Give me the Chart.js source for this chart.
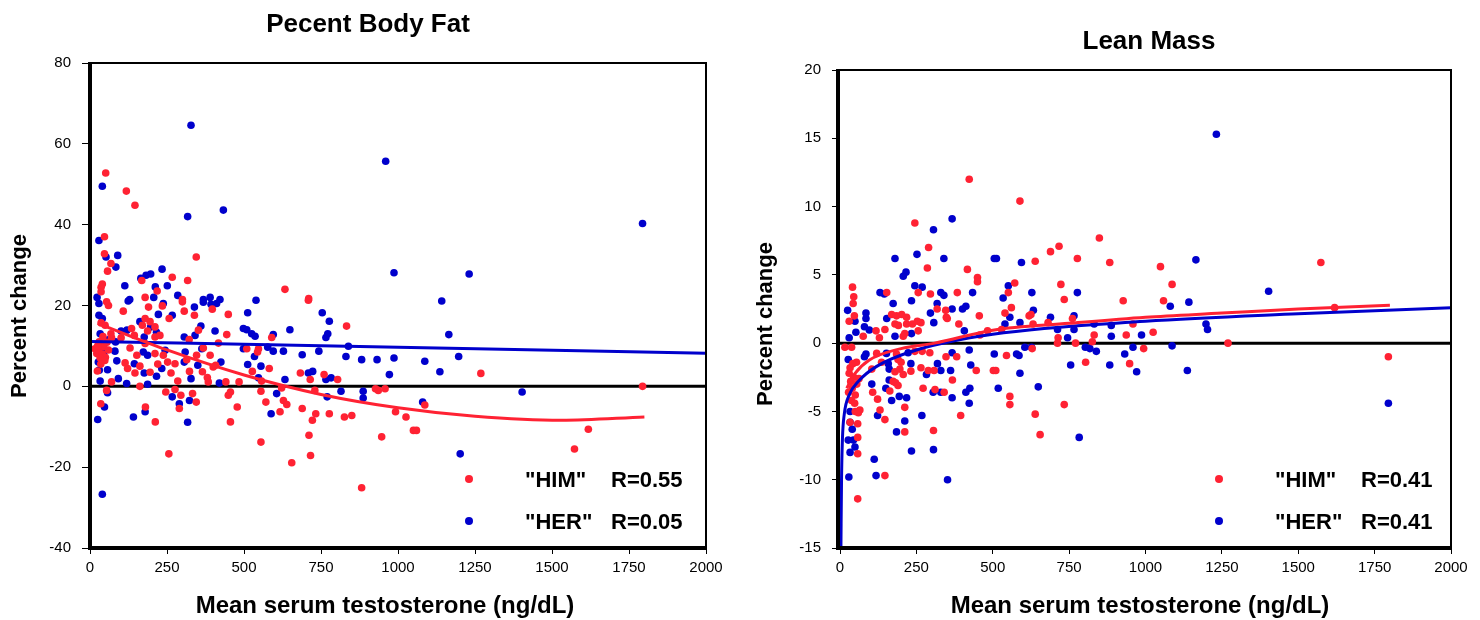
<!DOCTYPE html>
<html>
<head>
<meta charset="utf-8">
<script src="https://cdn.jsdelivr.net/npm/chart.js@4.4.1/dist/chart.umd.min.js"></script>
<style>
  body { margin: 0; background: #fff; }
  .panel { position: absolute; top: 0; width: 740px; height: 620px; }
  #left { left: 0; }
  #right { left: 740px; }
</style>
</head>
<body>
<div class="panel" id="left"><canvas id="fatChart" width="740" height="620"></canvas></div>
<div class="panel" id="right"><canvas id="leanChart" width="740" height="620"></canvas></div>
<script>
// ---- data: [testosterone ng/dL, percent change] ----
const xTicks = [0, 250, 500, 750, 1000, 1250, 1500, 1750, 2000];
const fatTicks = [-40, -20, 0, 20, 40, 60, 80];
const leanTicks = [-15, -10, -5, 0, 5, 10, 15, 20];

// Percent body fat, "HIM" (red)
const himFat = [
  [51,52.8],[118,48.3],[146,44.8],[47,37],[47,32.8],[345,32],[68,30.4],[57,28.5],[168,26.2],[267,27],
  [317,26.2],[40,25.3],[36,24.5],[36,23.4],[218,23.6],[179,22],[300,21.5],[633,24],[710,21.7],
  [1269,3.2],[1794,0],[1087,-4.6],[1026,-7.6],[1050,-10.9],[1060,-10.9],[1618,-10.6],[1573,-15.5],
  [256,-16.7],[180,-5.1],[212,-8.8],[35,-4.3],[290,-5.5],[345,-3.9],[295,-2.2],[333,-1.8],[246,-1.4],
  [276,-0.8],[54,-1],[449,-2.2],[456,-1.4],[478,-5.1],[456,-8.8],[441,1.1],[484,1.1],[70,1.1],[162,0],
  [285,1.3],[381,2.2],[384,1.1],[24,3.8],[146,3.3],[195,3.5],[263,3.3],[323,3.7],[122,4.4],[114,5.8],
  [162,5],[220,5.5],[365,3.6],[400,4.8],[408,5.2],[252,6],[276,5.6],[314,6.6],[16,9.3],[22,8.1],
  [152,7.7],[211,8.1],[238,7.7],[346,7.7],[390,7.7],[322,11.6],[368,9.5],[417,10.7],[444,12.8],[352,13.9],
  [179,10.6],[211,12.2],[227,12.6],[144,12.6],[135,14.3],[101,12],[70,12],[130,9.5],[170,15.1],[195,16],
  [179,16.8],[211,14.7],[187,13.7],[257,16.8],[190,19.6],[235,19.9],[306,18.6],[339,17.6],[397,19.1],
  [449,17.8],[300,20.9],[60,20],[54,20.9],[108,18.6],[36,15.7],[49,15.1],[68,13],
  [30,11],[38,10.5],[45,9.8],[28,8.8],[40,8],[50,7.2],[33,7],[55,10.9],[42,12.3],[25,10],[60,9],[48,6.4],[35,5.5],
  [709,21.3],[833,14.9],[590,12.1],[509,9.3],[547,9.3],[544,8.5],[527,3.7],[582,4.4],[683,3.3],[760,2.9],
  [715,1.7],[804,1.7],[557,1.3],[622,-0.4],[730,-1],[927,-0.6],[936,-1],[958,-0.6],[555,-1.2],[571,-3.9],
  [628,-3.5],[639,-4.5],[617,-6.3],[689,-5.5],[733,-6.8],[722,-8.4],[777,-6.8],[826,-7.6],[850,-7.2],
  [992,-6.3],[711,-12.1],[947,-12.5],[555,-13.8],[716,-17.1],[655,-18.9],[882,-25.1]
];

// Percent body fat, "HER" (blue)
const herFat = [
  [40,49.5],[328,64.6],[317,42],[433,43.6],[29,36.1],[52,32],[90,32.4],[84,29.5],[234,29],[197,27.8],
  [182,27.5],[165,26.7],[113,24.9],[251,24.9],[212,24.6],[285,22.5],[207,22],[23,22],[129,21.5],[368,21.5],
  [390,22],[422,21.5],[960,55.7],[987,28.1],[539,21.3],
  [1794,40.3],[1231,27.8],[1142,21.1],[1165,12.8],[1087,6.2],[1197,7.4],[1136,3.6],[1403,-1.4],[1080,-3.9],[1202,-16.7],
  [40,-26.7],[25,-8.2],[141,-7.6],[179,-6.3],[47,-5.1],[290,-4.3],[323,-3.5],[317,-8.9],[267,-2.6],[57,-1.6],
  [420,0.8],[33,1.3],[92,1.9],[119,0.7],[187,0.5],[328,1.9],[216,2.5],[57,4.1],[176,3.3],[233,4.4],
  [87,6.3],[144,5.6],[350,5.2],[425,6],[306,6],[27,6],[43,6.4],[81,8.7],[173,8.5],[187,7.7],
  [244,8.9],[309,8.5],[363,9.3],[341,12.6],[306,12.2],[406,13.7],[360,14.9],[176,12.2],[216,13.4],[120,13.9],
  [162,16],[197,14.7],[267,17.6],[222,17.8],[238,20.5],[339,19.6],[411,20.5],[368,20.8],[393,20.3],[124,21.1],
  [29,20.5],[29,17.6],[40,16.8],[33,13],[101,13.7],[83,11],[498,14.3],[498,9.3],[35,10],[45,8.5],[30,4],[60,11.5],
  [512,18.2],[754,18.2],[777,16.1],[509,14],[525,13],[536,12.4],[595,12.8],[649,14],[772,13],[766,12.1],
  [577,9.7],[595,8.7],[628,8.7],[689,7.8],[743,8.7],[839,9.9],[831,7.4],[882,6.6],[932,6.6],[987,7],
  [512,5.4],[534,7.4],[555,5],[709,3.3],[723,3.7],[783,2.1],[766,1.7],[972,2.9],[633,1.7],[547,2.1],
  [815,-1.2],[887,-1.2],[887,-2.9],[770,-2.6],[606,-1.8],[588,-6.8]
];

// Lean mass, "HIM" (red)
const himLean = [
  [423,12],[245,8.8],[290,7],[286,5.5],[417,5.4],[450,4.8],[450,4.5],[41,4.1],[45,3.4],[43,2.9],
  [153,3.7],[256,3.7],[296,3.6],[384,3.7],[318,2.5],[346,2.4],[348,1.9],[351,1.8],[47,2.0],[30,1.6],
  [456,2],[169,2.1],[185,2],[202,2.1],[218,1.9],[180,1.4],[191,1.3],[218,1.4],[237,1.4],[253,1.6],
  [265,1.5],[389,1.4],[118,0.9],[147,1.0],[256,0.9],[212,0.7],[207,0.5],[76,0.5],[129,0.4],[483,0.9],[458,0.6],
  [58,-11.4],[147,-9.7],[58,-8.1],[58,-6.9],[306,-6.4],[212,-6.5],[147,-5.6],[131,-4.9],[212,-4.7],[395,-5.3],
  [58,-5.9],[33,-5.8],[50,-5],[60,-5.1],[65,-4.9],[123,-4.1],[107,-3.6],[163,-3.5],[272,-3.3],[311,-3.4],
  [341,-3.6],[174,-2.8],[182,-2.9],[190,-3.1],[368,-2.7],[104,-1.9],[207,-2.3],[180,-2.1],[196,-1.9],[232,-2.05],
  [265,-1.8],[289,-2],[308,-2],[446,-2],[136,-1.4],[120,-0.75],[185,-0.8],[190,-1.2],[200,-1.4],[54,-1.4],
  [245,-0.6],[269,-0.6],[294,-0.7],[347,-1],[382,-1],[16,-0.3],[38,-0.3],[502,-2],
  [30,-2.2],[35,-2.8],[40,-3.3],[45,-2.5],[50,-3.8],[28,-3.6],[55,-3],[38,-4.2],[62,-2.6],[33,-1.8],[48,-4.4],[42,-1.5],
  [589,10.4],[849,7.7],[717,7.1],[689,6.7],[639,6],[777,6.2],[883,5.9],[572,4.4],[551,3.7],[723,4.3],
  [734,3.2],[927,3.1],[561,2.6],[540,2.2],[619,2],[625,2.1],[761,1.8],[632,1.4],[681,1.5],[959,1.4],
  [529,1],[832,0.6],[937,0.6],[1025,0.8],[714,0.4],
  [712,0],[771,0],[826,0.1],[994,-0.4],[545,-0.9],[629,-0.4],[804,-1.4],[948,-1.5],[510,-2],[556,-3.9],
  [556,-4.5],[734,-4.5],[639,-5.2],[655,-6.7],
  [1049,5.6],[1574,5.9],[1087,4.3],[1059,3.1],[1619,2.6],[1270,0],[1795,-1]
];

// Lean mass, "HER" (blue)
const herLean = [
  [367,9.1],[306,8.3],[180,6.2],[252,6.5],[340,6.2],[216,5.2],[207,4.9],[505,6.2],[245,4.2],[269,4.1],
  [131,3.7],[145,3.6],[234,3.1],[330,3.7],[340,3.5],[434,3.7],[174,2.9],[318,2.9],[367,2.5],[412,2.7],
  [401,2.5],[25,2.4],[85,2.2],[85,1.8],[49,1.6],[296,2.2],[307,1.5],[153,1.8],[80,1.2],[96,0.96],
  [52,0.8],[234,0.7],[30,0.4],[180,0.5],[407,0.9],
  [29,-9.8],[118,-9.7],[112,-8.5],[352,-10],[33,-8],[49,-7.6],[44,-7.1],[27,-7.1],[234,-7.9],[306,-7.8],
  [185,-6.5],[212,-5.7],[268,-5.3],[123,-5.3],[40,-6.3],[33,-5.8],[33,-5],[169,-4.2],[194,-3.9],[218,-4],
  [150,-3.3],[305,-3.6],[330,-3.6],[367,-4],[412,-3.6],[425,-3.3],[423,-4.4],[104,-3],[161,-2.7],[161,-1.9],
  [283,-2.3],[330,-2],[362,-2],[319,-1.5],[232,-1.5],[158,-1.5],[85,-0.8],[80,-1],[152,-0.75],[27,-1.2],
  [367,-0.7],[223,-0.7],[423,-0.5],[428,-1.6],[505,-0.8],
  [512,6.2],[594,5.9],[551,4.2],[534,3.3],[628,3.7],[777,3.7],[556,1.9],[633,2.4],[689,1.9],[766,2],
  [540,1.4],[589,1.5],[712,1],[766,1],[832,1.4],[888,1.3],[888,0.5],[987,0.6],[745,0.4],
  [605,-0.3],[627,-0.3],[803,-0.3],[818,-0.4],[839,-0.6],[959,-0.3],[578,-0.8],[586,-0.9],[755,-1.6],
  [883,-1.6],[932,-0.8],[971,-2.1],[589,-2.2],[518,-3.3],[649,-3.2],[783,-6.9],
  [1232,15.3],[1165,6.1],[1403,3.8],[1081,2.7],[1142,3],[1198,1.4],[1203,1],[1087,-0.2],[1137,-2],[1795,-4.4]
];

// fitted curves
const fatFitHim = [[25,15.6],[250,9.0],[500,2.8],[750,-2.0],[1000,-5.3],[1250,-7.4],[1530,-8.4],[1800,-7.6]];
const fatFitHer = [[0,11.1],[1000,9.7],[2000,8.2]];
const leanFitHim = [[22,-3.3],[50,-2.2],[95,-1.25],[200,-0.4],[310,0],[500,0.95],[750,1.45],[1000,1.9],[1250,2.2],[1500,2.5],[1800,2.78]];
const leanFitHer = [[3,-15],[5,-10],[8,-7],[14,-5.2],[30,-3.8],[60,-2.8],[120,-1.7],[250,-0.5],[500,0.65],[1000,1.6],[1500,2.15],[2000,2.6]];
const zeroLine = [[0,0],[2000,0]];

const RED = '#ff2233';
const BLUE = '#0000cc';
const FONT = '"Liberation Sans", Arial, Helvetica, sans-serif';

const pts = arr => arr.map(p => ({ x: p[0], y: p[1] }));

// box around the plot: thick left/bottom axes, thin top/right
const frame = {
    id: 'frame',
    afterDatasetsDraw(chart, args, o) {
        const { ctx, chartArea: a } = chart;
        const lx = a.left - (o.shift || 0);
        ctx.save();
        ctx.strokeStyle = '#000';
        ctx.lineWidth = 2;
        ctx.beginPath();
        ctx.moveTo(lx, a.top);
        ctx.lineTo(a.right, a.top);
        ctx.lineTo(a.right, a.bottom);
        ctx.stroke();
        ctx.lineWidth = 4;
        ctx.beginPath();
        ctx.moveTo(lx, a.top - 1);
        ctx.lineTo(lx, a.bottom);
        ctx.lineTo(a.right + 1, a.bottom);
        ctx.stroke();
        ctx.restore();
    }
};

// titles, axis labels and the in-plot legend
const decor = {
    id: 'decor',
    afterDraw(chart, args, o) {
        const { ctx, chartArea: a } = chart;
        ctx.save();
        ctx.fillStyle = '#000';
        ctx.textAlign = 'center';
        ctx.textBaseline = 'alphabetic';
        ctx.font = 'bold 26px ' + FONT;
        ctx.fillText(o.title, o.titleX, o.titleY);

        ctx.font = 'bold 24px ' + FONT;
        ctx.fillText('Mean serum testosterone (ng/dL)', o.xLabelX, 613);

        ctx.save();
        ctx.translate(o.yLabelX, o.yLabelY);
        ctx.rotate(-Math.PI / 2);
        ctx.textBaseline = 'middle';
        ctx.font = 'bold 22px ' + FONT;
        ctx.fillText('Percent change', 0, 0);
        ctx.restore();

        const rows = [
            { color: RED, name: '"HIM"', r: o.rHim, y: a.bottom - 69 },
            { color: BLUE, name: '"HER"', r: o.rHer, y: a.bottom - 27 }
        ];
        ctx.textAlign = 'left';
        ctx.font = 'bold 22px ' + FONT;
        rows.forEach(row => {
            ctx.fillStyle = row.color;
            ctx.beginPath();
            ctx.arc(a.left + 379, row.y, 4, 0, Math.PI * 2);
            ctx.fill();
            ctx.fillStyle = '#000';
            ctx.fillText(row.name, a.left + 435, row.y + 8);
            ctx.fillText('R=' + row.r, a.left + 521, row.y + 8);
        });
        ctx.restore();
    }
};

function scatterSet(data, color, order) {
    return {
        data: pts(data),
        backgroundColor: color,
        borderColor: color,
        borderWidth: 0,
        pointRadius: 3.8,
        pointHoverRadius: 3.8,
        showLine: false,
        order: order
    };
}

function lineSet(data, color, width, order) {
    return {
        data: pts(data),
        borderColor: color,
        backgroundColor: color,
        borderWidth: width,
        pointRadius: 0,
        pointHoverRadius: 0,
        showLine: true,
        cubicInterpolationMode: 'monotone',
        order: order
    };
}

function makeChart(id, cfg) {
    const tickFont = { size: 15, family: FONT };
    return new Chart(document.getElementById(id), {
        type: 'scatter',
        data: {
            datasets: [
                lineSet(zeroLine, '#000', 3, 6),
                scatterSet(cfg.her, BLUE, 5),
                scatterSet(cfg.him, RED, 4),
                lineSet(cfg.fitHer, BLUE, 3, 2),
                lineSet(cfg.fitHim, RED, 3, 1)
            ]
        },
        options: {
            responsive: false,
            animation: false,
            events: [],
            layout: { padding: { top: cfg.top, right: cfg.right, bottom: 0, left: 0 } },
            plugins: {
                legend: { display: false },
                tooltip: { enabled: false },
                frame: { shift: cfg.shift },
                decor: cfg.decor
            },
            scales: {
                x: {
                    type: 'linear',
                    min: 0,
                    max: 2000,
                    afterBuildTicks: s => { s.ticks = xTicks.map(v => ({ value: v })); },
                    afterFit: s => { s.height = 72; },
                    grid: { drawOnChartArea: false, drawTicks: true, tickLength: 6, color: '#000', lineWidth: 1 },
                    border: { display: false },
                    ticks: { color: '#000', font: tickFont, padding: 5, maxRotation: 0, autoSkip: false, callback: v => String(v) }
                },
                y: {
                    type: 'linear',
                    min: cfg.yTicks[0],
                    max: cfg.yTicks[cfg.yTicks.length - 1],
                    afterBuildTicks: s => { s.ticks = cfg.yTicks.map(v => ({ value: v })); },
                    afterFit: s => { s.width = cfg.axisW; },
                    grid: { drawOnChartArea: false, drawTicks: true, tickLength: 8, color: '#000', lineWidth: 1 },
                    border: { display: false },
                    ticks: { color: '#000', font: tickFont, padding: 11, autoSkip: false, callback: v => String(v) }
                }
            }
        },
        plugins: [frame, decor]
    });
}

makeChart('fatChart', {
    him: himFat, her: herFat, fitHim: fatFitHim, fitHer: fatFitHer,
    yTicks: fatTicks, top: 63, right: 34, axisW: 90, shift: 0,
    decor: { title: 'Pecent Body Fat', titleX: 368, titleY: 32, xLabelX: 385, yLabelX: 20, yLabelY: 316, rHim: '0.55', rHer: '0.05' }
});

makeChart('leanChart', {
    him: himLean, her: herLean, fitHim: leanFitHim, fitHer: leanFitHer,
    yTicks: leanTicks, top: 70, right: 29, axisW: 100, shift: 2,
    decor: { title: 'Lean Mass', titleX: 409, titleY: 49, xLabelX: 400, yLabelX: 26, yLabelY: 324, rHim: '0.41', rHer: '0.41' }
});
</script>
</body>
</html>
